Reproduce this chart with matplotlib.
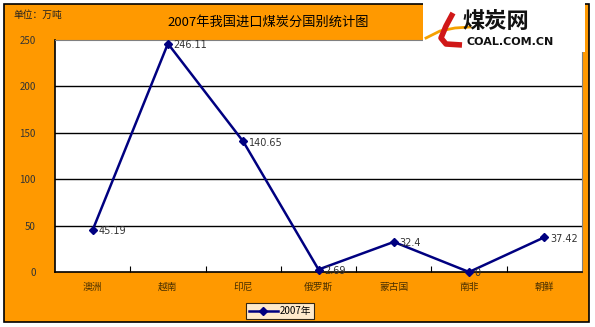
import matplotlib
matplotlib.use("Agg")
import matplotlib.pyplot as plt
from matplotlib.patches import Rectangle
from matplotlib.lines import Line2D

plt.rcParams['font.family'] = ['Noto Sans CJK SC', 'DejaVu Sans']

countries = ['澳洲', '越南', '印尼', '俄罗斯', '蒙古国', '南非', '朝鲜']
imports_2007 = [45.19, 246.11, 140.65, 2.69, 32.4, 0, 37.42]
value_labels = ['45.19', '246.11', '140.65', '2.69', '32.4', '0', '37.42']
yticks = [0, 50, 100, 150, 200, 250]

W, H = 595, 327
fig = plt.figure(figsize=(W / 100, H / 100), dpi=100, facecolor='white')


def px(xp, yp):
    # pixel position (from top-left) -> figure fraction
    return xp / W, 1 - yp / H


# orange chart area with black border
fig.patches.append(Rectangle(px(4, 322), 585 / W, 318 / H,
                             transform=fig.transFigure, facecolor='#FF9900',
                             edgecolor='black', linewidth=1.2, zorder=-1))

ax = fig.add_axes([55 / W, 1 - 272 / H, 527 / W, 232 / H])
ax.set_facecolor('white')
x = range(len(countries))
ax.plot(x, imports_2007, color='#000080', linewidth=1.8, marker='D',
        markersize=4, label='2007年', zorder=3, clip_on=False)
for xi, v, s in zip(x, imports_2007, value_labels):
    ax.annotate(s, (xi, v), xytext=(4, -1), textcoords='offset points',
                va='center', ha='left', fontsize=7, color='#333333',
                family=['DejaVu Sans'])

ax.set_xlim(-0.5, len(countries) - 0.5)
ax.set_ylim(0, 250)
ax.set_yticks(yticks)
ax.set_yticklabels([str(t) for t in yticks], fontsize=7, color='#333333')
ax.tick_params(axis='y', length=0, pad=14)
ax.set_xticks(list(x))
ax.set_xticklabels(countries, fontsize=7, color='#4a3000')
ax.tick_params(axis='x', length=0, pad=7)
ax.set_xticks([i + 0.5 for i in range(len(countries) - 1)], minor=True)
ax.tick_params(axis='x', which='minor', direction='in', length=4, width=0.8)
for t in yticks[1:-1]:
    ax.axhline(t, color='black', linewidth=1, zorder=1)
for side in ['top', 'right']:
    ax.spines[side].set_color('#808080')
for side in ['left', 'bottom']:
    ax.spines[side].set_linewidth(1.2)

fig.text(*px(268, 22), '2007年我国进口煤炭分国别统计图', ha='center',
         va='center', fontsize=9.5, color='black')
fig.text(*px(13, 15), '单位：万吨', ha='left', va='center',
         fontsize=7, color='#222222')

leg = ax.legend(loc='center', bbox_to_anchor=px(280, 311),
                bbox_transform=fig.transFigure, fontsize=7, frameon=True,
                fancybox=False, edgecolor='black', handlelength=3,
                borderpad=0.3, handletextpad=0.2)
leg.get_frame().set_linewidth(0.8)

# logo block
fig.patches.append(Rectangle(px(423, 52), 162 / W, 52 / H,
                             transform=fig.transFigure, facecolor='white',
                             edgecolor='none', zorder=5))
sx, sy = zip(*[px(426, 38), px(440, 31), px(455, 28), px(470, 27)])
fig.lines.append(Line2D(sx, sy, transform=fig.transFigure, color='#f5a000',
                        linewidth=2, zorder=6))
rx, ry = zip(*[px(453, 13), px(446, 26), px(441, 38), px(446, 44),
               px(462, 45)])
fig.lines.append(Line2D(rx, ry, transform=fig.transFigure, color='#d01818',
                        linewidth=4, solid_capstyle='butt', zorder=7))
fig.text(*px(496, 22), '煤炭网', ha='center', va='center', fontsize=16,
         fontweight='bold', color='#111111', zorder=8)
fig.text(*px(510, 42), 'COAL.COM.CN', ha='center', va='center',
         fontsize=8, fontweight='bold', color='#111111', zorder=8,
         family=['DejaVu Sans'])

fig.savefig('out.png', dpi=100, facecolor='white')
